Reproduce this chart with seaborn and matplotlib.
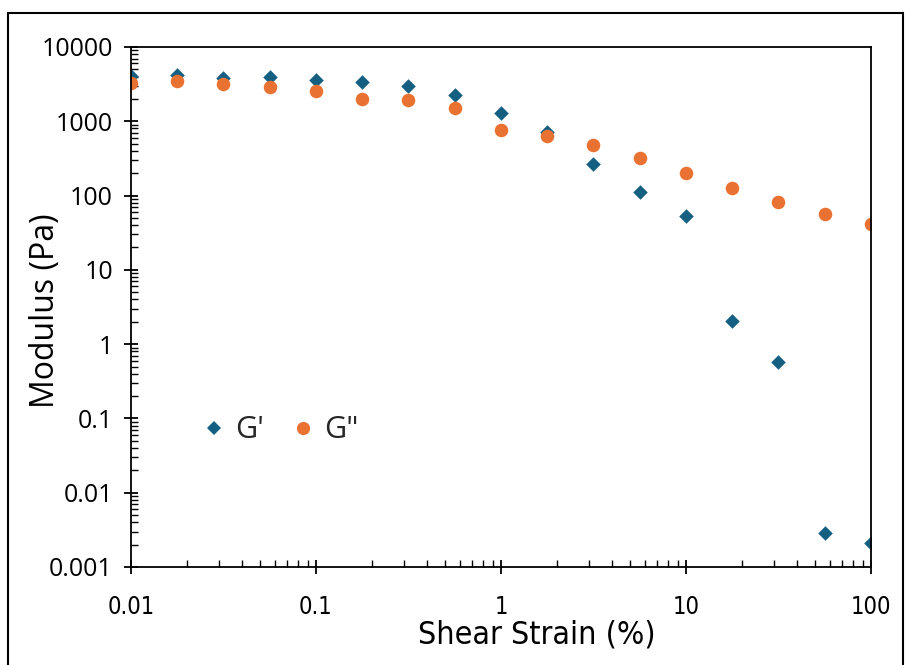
import numpy as np
import pandas as pd
import matplotlib
matplotlib.use("Agg")
import matplotlib.pyplot as plt
import matplotlib.ticker as mticker
from matplotlib import font_manager
from matplotlib.patches import Rectangle
import seaborn as sns

strain = [0.01, 0.0178, 0.0316, 0.0562, 0.1, 0.178, 0.316, 0.562, 1.0, 1.78,
          3.16, 5.62, 10.0, 17.8, 31.6, 56.2, 100.0]
g_storage = [4070, 4200, 3800, 3950, 3600, 3380, 2980, 2260, 1290, 718,
             266, 112, 53, 2.05, 0.575, 0.0029, 0.0021]
g_loss = [3270, 3480, 3160, 2890, 2560, 2000, 1940, 1510, 760, 630,
          480, 320, 200, 126, 82, 56, 42]
series_names = ["G'", 'G"']
y_ticks = [0.001, 0.01, 0.1, 1, 10, 100, 1000, 10000]
x_ticks = [0.01, 0.1, 1, 10, 100]

df = pd.DataFrame({
    "strain": strain * 2,
    "modulus": g_storage + g_loss,
    "series": [series_names[0]] * len(strain) + [series_names[1]] * len(strain),
})

sns.set_theme(style="white")
plt.rcParams["font.family"] = ["Open Sans", "DejaVu Sans"]

# look for an upright condensed face for the x-axis texts
narrow_path = None
cands = []
for f in font_manager.fontManager.ttflist:
    n = f.name.lower()
    fn = f.fname.lower()
    if f.style != "normal":
        continue
    if "italic" in fn or "oblique" in fn or "bold" in fn or "light" in fn:
        continue
    if f.weight not in (400, "normal", "regular"):
        continue
    if "narrow" in n or "condensed" in n or "condensed" in fn or "narrow" in fn \
            or f.stretch in ("condensed", "semi-condensed"):
        cands.append(f.fname)
if cands:
    narrow_path = sorted(cands)[0]
if narrow_path is not None:
    narrow_fp = lambda size: font_manager.FontProperties(fname=narrow_path, size=size)
    xtick_size, xlabel_size = 17, 23
else:
    narrow_fp = lambda size: font_manager.FontProperties(family=["Open Sans", "DejaVu Sans"], size=size)
    xtick_size, xlabel_size = 15, 21

fig = plt.figure(figsize=(9.06, 6.65), dpi=100)
ax = fig.add_axes([131 / 906, 1 - 567 / 665, (871 - 131) / 906, (567 - 47) / 665])

colors = {series_names[0]: "#156082", series_names[1]: "#E97132"}
markers = {series_names[0]: "D", series_names[1]: "o"}
sizes_map = {series_names[0]: 55, series_names[1]: 95}
for name in series_names:
    sub = df[df["series"] == name]
    sns.scatterplot(data=sub, x="strain", y="modulus", ax=ax, color=colors[name],
                    marker=markers[name], s=sizes_map[name], linewidth=0,
                    label=name, legend=False)

ax.set_xscale("log")
ax.set_yscale("log")
ax.set_xlim(0.01, 100)
ax.set_ylim(0.001, 10000)
ax.xaxis.set_major_locator(mticker.FixedLocator(x_ticks))
ax.yaxis.set_major_locator(mticker.FixedLocator(y_ticks))
fmt = mticker.FuncFormatter(lambda v, p: "%g" % v)
ax.xaxis.set_major_formatter(fmt)
ax.yaxis.set_major_formatter(fmt)
ax.xaxis.set_minor_locator(mticker.LogLocator(base=10, subs=np.arange(2, 10), numticks=20))
ax.yaxis.set_minor_locator(mticker.LogLocator(base=10, subs=np.arange(2, 10), numticks=20))
ax.xaxis.set_minor_formatter(mticker.NullFormatter())
ax.yaxis.set_minor_formatter(mticker.NullFormatter())

ax.tick_params(which="major", direction="inout", length=10, width=1.3, color="black",
               labelcolor="black", bottom=True, left=True, top=False, right=False)
ax.tick_params(axis="y", which="major", labelsize=18, pad=8)
ax.tick_params(axis="x", which="major", labelsize=xtick_size, pad=15)
ax.tick_params(which="minor", direction="in", length=5, width=1.0, color="black",
               bottom=True, left=True, top=False, right=False)
for lab in ax.get_xticklabels():
    lab.set_fontproperties(narrow_fp(xtick_size))
for sp in ax.spines.values():
    sp.set_color("black")
    sp.set_linewidth(1.3)
    sp.set_visible(True)

ax.set_xlabel("Shear Strain (%)", color="black", fontproperties=narrow_fp(xlabel_size))
ax.set_ylabel("Modulus (Pa)", fontsize=23, color="black")
ax.xaxis.set_label_coords((537 - 131) / 740, -(619 - 567) / 520)
ax.yaxis.set_label_coords((62 - 131) / 740, (567 - 311) / 520)

h1 = plt.Line2D([], [], linestyle="none", marker="D", color=colors[series_names[0]],
                markersize=7.5, markeredgewidth=0)
h2 = plt.Line2D([], [], linestyle="none", marker="o", color=colors[series_names[1]],
                markersize=9.5, markeredgewidth=0)
ax.legend([h1, h2], series_names, loc="center left", bbox_to_anchor=(0.0545, 0.263),
          ncol=2, frameon=False, fontsize=22, handletextpad=0.2, columnspacing=0.75,
          handlelength=1.0)

fig.patches.append(Rectangle((8 / 906, -0.05), (903 - 8) / 906, 1 - 13 / 665 + 0.05,
                             transform=fig.transFigure, fill=False,
                             edgecolor="black", linewidth=1.5))

fig.savefig("out.png", dpi=100)
